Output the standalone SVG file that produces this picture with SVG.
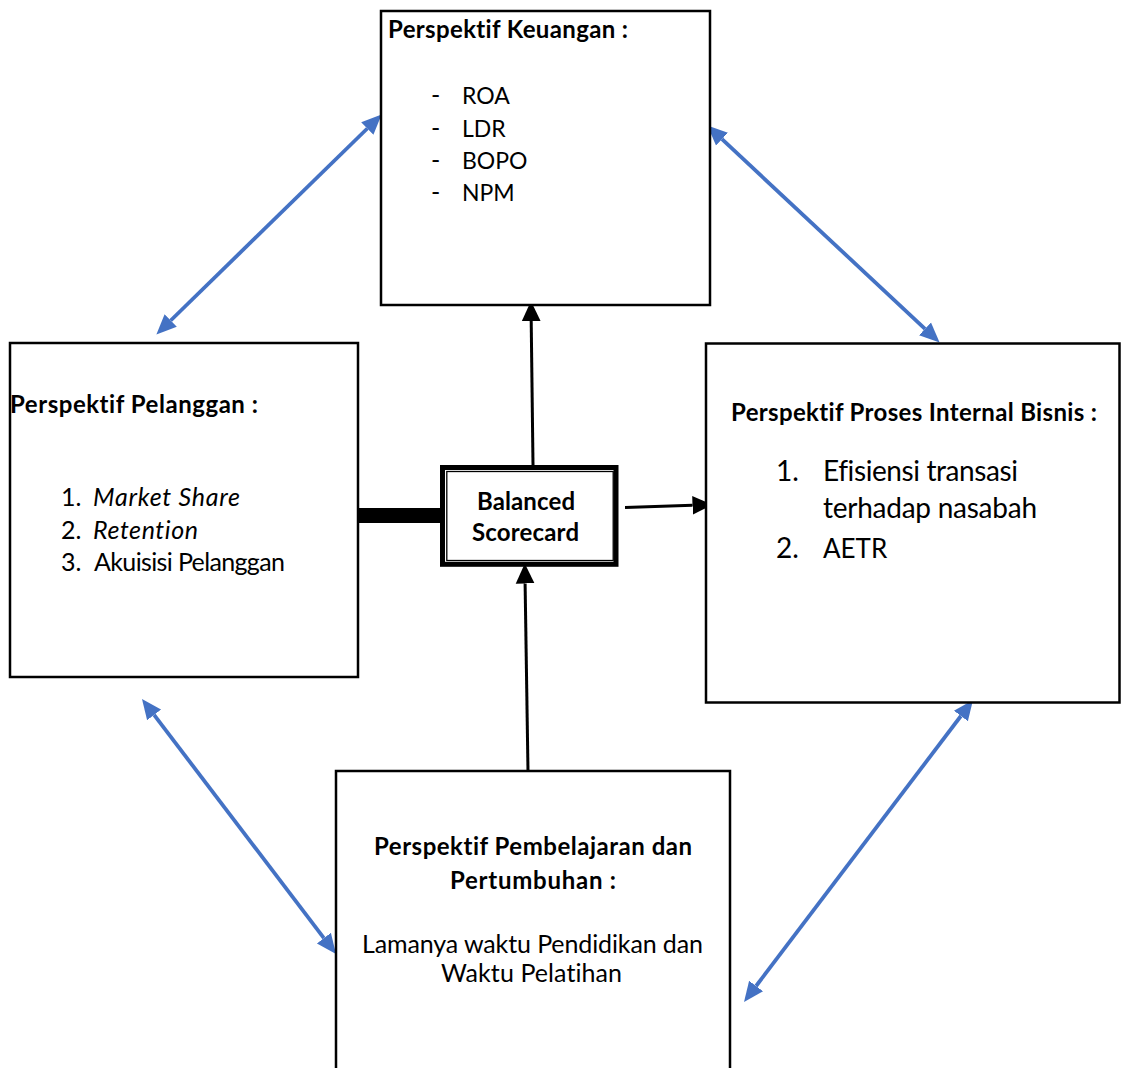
<svg xmlns="http://www.w3.org/2000/svg" width="1121" height="1068" viewBox="0 0 1121 1068">
<style>
.box{fill:#fff;stroke:#000;stroke-width:2.5}
.t{font-family:Lato,"Liberation Sans",sans-serif;font-size:25px;fill:#000;font-variant-ligatures:none}
.b{font-weight:bold;font-size:24px}
.i{font-style:italic}
.big{font-size:28px}
.cap{font-size:23px}
.blue{stroke:#4472C4;stroke-width:3.8;fill:none}
.blk{stroke:#000;stroke-width:3;fill:none}
</style>
<defs>
<marker id="ab" markerUnits="userSpaceOnUse" markerWidth="20" markerHeight="20" refX="0" refY="7" orient="auto-start-reverse" viewBox="0 0 16 14"><path d="M0,0 L16,7 L0,14 z" fill="#4472C4"/></marker>
<marker id="ak" markerUnits="userSpaceOnUse" markerWidth="20" markerHeight="20" refX="0" refY="7.5" orient="auto" viewBox="0 0 16 15"><path d="M0,0 L16,7.5 L0,15 z" fill="#000"/></marker>
</defs>
<rect width="1121" height="1068" fill="#fff"/>

<g id="connectors">
<line class="blue" x1="170.7" y1="320.5" x2="367.3" y2="128.5" marker-start="url(#ab)" marker-end="url(#ab)"/>
<line class="blue" x1="722" y1="139.2" x2="925" y2="328.8" marker-start="url(#ab)" marker-end="url(#ab)"/>
<line class="blue" x1="154.1" y1="714.9" x2="323.9" y2="938.1" marker-start="url(#ab)" marker-end="url(#ab)"/>
<line class="blue" x1="960.9" y1="716" x2="756.1" y2="986" marker-start="url(#ab)" marker-end="url(#ab)"/>
<rect x="357" y="508" width="84" height="15" fill="#000"/>
<line class="blk" x1="533" y1="465" x2="531.2" y2="321" marker-end="url(#ak)"/>
<line class="blk" x1="528" y1="771" x2="525.1" y2="583.5" marker-end="url(#ak)"/>
<line class="blk" x1="625" y1="507.5" x2="692.5" y2="505.3" marker-end="url(#ak)"/>
</g>

<g id="keuangan">
<rect class="box" x="381" y="11" width="329" height="294" stroke-width="2"/>
<text class="t b" x="388" y="38" textLength="240">Perspektif Keuangan :</text>
<text class="t" x="431" y="104">-</text><text class="t cap" x="462" y="104">ROA</text>
<text class="t" x="431" y="136.5">-</text><text class="t cap" x="462" y="136.5">LDR</text>
<text class="t" x="431" y="168.5">-</text><text class="t cap" x="462" y="168.5">BOPO</text>
<text class="t" x="431" y="201">-</text><text class="t cap" x="462" y="201">NPM</text>
</g>

<g id="pelanggan">
<rect class="box" x="10" y="343" width="348" height="334" stroke-width="2"/>
<text class="t b" x="10" y="413" textLength="248">Perspektif Pelanggan :</text>
<text class="t" x="61" y="506">1.</text><text class="t i" x="93" y="506" textLength="147">Market Share</text>
<text class="t" x="61" y="538.5">2.</text><text class="t i" x="93" y="538.5" textLength="105">Retention</text>
<text class="t" x="61" y="571">3.</text><text class="t" x="94" y="571" textLength="191">Akuisisi Pelanggan</text>
</g>

<g id="proses">
<rect class="box" x="706" y="343.5" width="413.5" height="359"/>
<text class="t b" x="731" y="421" textLength="366">Perspektif Proses Internal Bisnis :</text>
<text class="t big" x="776" y="481">1.</text><text class="t big" x="823" y="481" textLength="195">Efisiensi transasi</text>
<text class="t big" x="823" y="518" textLength="214">terhadap nasabah</text>
<text class="t big" x="776" y="557.5">2.</text><text class="t big" x="823" y="557.5" style="font-size:26px">AETR</text>
</g>

<g id="pembelajaran">
<rect class="box" x="336" y="771" width="394" height="310"/>
<text class="t b" x="533" y="855" text-anchor="middle" textLength="318">Perspektif Pembelajaran dan</text>
<text class="t b" x="533" y="889" text-anchor="middle" textLength="166">Pertumbuhan :</text>
<text class="t" x="532.5" y="953" text-anchor="middle" textLength="341">Lamanya waktu Pendidikan dan</text>
<text class="t" x="531.5" y="982" text-anchor="middle" textLength="181">Waktu Pelatihan</text>
</g>

<g id="bsc">
<rect x="442.5" y="467.5" width="173.5" height="96.8" fill="#fff" stroke="#000" stroke-width="5"/>
<rect x="446.8" y="471.5" width="166.4" height="89" fill="none" stroke="#000" stroke-width="1.3"/>
<text class="t b" x="526" y="510" text-anchor="middle" textLength="98">Balanced</text>
<text class="t b" x="525.5" y="541" text-anchor="middle" textLength="107">Scorecard</text>
</g>
</svg>
